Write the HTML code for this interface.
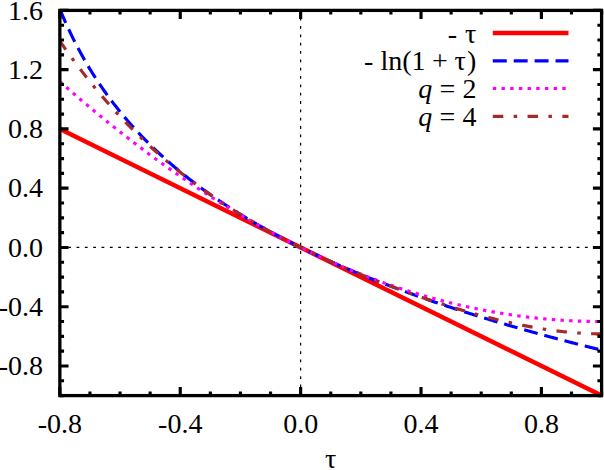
<!DOCTYPE html>
<html><head><meta charset="utf-8"><title>plot</title>
<style>html,body{margin:0;padding:0;background:#fff;}svg{display:block;}text{font-family:"Liberation Serif",serif;font-size:28px;fill:#000;}</style></head>
<body>
<svg width="604" height="470" viewBox="0 0 604 470">
<rect width="604" height="470" fill="#fff"/>
<path d="M59.85,247.45 H601.60" stroke="#000" stroke-width="1.2" stroke-dasharray="2.8 5.535" fill="none"/>
<path d="M300.63,395.60 V10.40" stroke="#000" stroke-width="1.2" stroke-dasharray="2.8 5.535" fill="none"/>
<clipPath id="c"><rect x="59.85" y="10.40" width="546.75" height="388.20"/></clipPath>
<g clip-path="url(#c)" fill="none">
<path d="M59.85,128.92 L330.73,262.26 L601.60,395.60" stroke="#ff0000" stroke-width="4.45"/>
<path d="M59.85,9.00 L61.20,12.30 L62.56,15.52 L63.91,18.68 L65.27,21.77 L66.62,24.80 L67.98,27.76 L69.33,30.67 L70.69,33.52 L72.04,36.32 L73.39,39.07 L74.75,41.76 L76.10,44.41 L77.46,47.01 L78.81,49.57 L80.17,52.09 L81.52,54.56 L82.87,56.99 L84.23,59.38 L85.58,61.73 L86.94,64.05 L88.29,66.33 L89.65,68.58 L91.00,70.79 L92.35,72.97 L93.71,75.12 L95.06,77.24 L96.42,79.33 L97.77,81.39 L99.13,83.42 L100.48,85.42 L101.84,87.40 L103.19,89.35 L104.54,91.27 L105.90,93.18 L107.25,95.05 L108.61,96.91 L109.96,98.74 L111.32,100.54 L112.67,102.33 L114.02,104.09 L115.38,105.84 L116.73,107.56 L118.09,109.27 L119.44,110.95 L120.80,112.62 L122.15,114.26 L123.51,115.89 L124.86,117.50 L126.21,119.10 L127.57,120.68 L128.92,122.24 L130.28,123.78 L131.63,125.31 L132.99,126.82 L134.34,128.32 L135.69,129.80 L137.05,131.27 L138.40,132.72 L139.76,134.16 L141.11,135.59 L142.47,137.00 L143.82,138.40 L145.18,139.78 L146.53,141.15 L147.88,142.51 L149.24,143.86 L150.59,145.20 L151.95,146.52 L153.30,147.83 L154.66,149.13 L156.01,150.42 L157.37,151.70 L158.72,152.97 L160.07,154.22 L161.43,155.47 L162.78,156.70 L164.14,157.93 L165.49,159.14 L166.85,160.35 L168.20,161.54 L169.55,162.73 L170.91,163.91 L172.26,165.07 L173.62,166.23 L174.97,167.38 L176.33,168.52 L177.68,169.65 L179.03,170.77 L180.39,171.89 L181.74,172.99 L183.10,174.09 L184.45,175.18 L185.81,176.26 L187.16,177.34 L188.52,178.40 L189.87,179.46 L191.22,180.51 L192.58,181.56 L193.93,182.59 L195.29,183.62 L196.64,184.65 L198.00,185.66 L199.35,186.67 L200.71,187.67 L202.06,188.67 L203.41,189.65 L204.77,190.64 L206.12,191.61 L207.48,192.58 L208.83,193.54 L210.19,194.50 L211.54,195.45 L212.89,196.39 L214.25,197.33 L215.60,198.26 L216.96,199.19 L218.31,200.11 L219.67,201.02 L221.02,201.93 L222.38,202.84 L223.73,203.73 L225.08,204.63 L226.44,205.51 L227.79,206.40 L229.15,207.27 L230.50,208.15 L231.86,209.01 L233.21,209.87 L234.56,210.73 L235.92,211.58 L237.27,212.43 L238.63,213.27 L239.98,214.11 L241.34,214.94 L242.69,215.77 L244.04,216.59 L245.40,217.41 L246.75,218.23 L248.11,219.04 L249.46,219.84 L250.82,220.64 L252.17,221.44 L253.53,222.23 L254.88,223.02 L256.23,223.80 L257.59,224.58 L258.94,225.36 L260.30,226.13 L261.65,226.90 L263.01,227.66 L264.36,228.42 L265.72,229.18 L267.07,229.93 L268.42,230.68 L269.78,231.42 L271.13,232.17 L272.49,232.90 L273.84,233.64 L275.20,234.37 L276.55,235.09 L277.90,235.82 L279.26,236.54 L280.61,237.25 L281.97,237.96 L283.32,238.67 L284.68,239.38 L286.03,240.08 L287.39,240.78 L288.74,241.48 L290.09,242.17 L291.45,242.86 L292.80,243.54 L294.16,244.23 L295.51,244.91 L296.87,245.58 L298.22,246.26 L299.57,246.93 L300.93,247.59 L302.28,248.26 L303.64,248.92 L304.99,249.58 L306.35,250.23 L307.70,250.89 L309.06,251.54 L310.41,252.18 L311.76,252.83 L313.12,253.47 L314.47,254.11 L315.83,254.75 L317.18,255.38 L318.54,256.01 L319.89,256.64 L321.24,257.26 L322.60,257.88 L323.95,258.50 L325.31,259.12 L326.66,259.74 L328.02,260.35 L329.37,260.96 L330.73,261.57 L332.08,262.17 L333.43,262.77 L334.79,263.37 L336.14,263.97 L337.50,264.57 L338.85,265.16 L340.21,265.75 L341.56,266.34 L342.91,266.92 L344.27,267.51 L345.62,268.09 L346.98,268.67 L348.33,269.24 L349.69,269.82 L351.04,270.39 L352.39,270.96 L353.75,271.53 L355.10,272.09 L356.46,272.66 L357.81,273.22 L359.17,273.78 L360.52,274.33 L361.88,274.89 L363.23,275.44 L364.58,275.99 L365.94,276.54 L367.29,277.09 L368.65,277.63 L370.00,278.18 L371.36,278.72 L372.71,279.26 L374.06,279.79 L375.42,280.33 L376.77,280.86 L378.13,281.39 L379.48,281.92 L380.84,282.45 L382.19,282.97 L383.55,283.50 L384.90,284.02 L386.25,284.54 L387.61,285.06 L388.96,285.57 L390.32,286.09 L391.67,286.60 L393.03,287.11 L394.38,287.62 L395.74,288.13 L397.09,288.63 L398.44,289.14 L399.80,289.64 L401.15,290.14 L402.51,290.64 L403.86,291.14 L405.22,291.63 L406.57,292.13 L407.92,292.62 L409.28,293.11 L410.63,293.60 L411.99,294.09 L413.34,294.57 L414.70,295.06 L416.05,295.54 L417.40,296.02 L418.76,296.50 L420.11,296.98 L421.47,297.45 L422.82,297.93 L424.18,298.40 L425.53,298.87 L426.89,299.35 L428.24,299.81 L429.59,300.28 L430.95,300.75 L432.30,301.21 L433.66,301.68 L435.01,302.14 L436.37,302.60 L437.72,303.06 L439.07,303.51 L440.43,303.97 L441.78,304.42 L443.14,304.88 L444.49,305.33 L445.85,305.78 L447.20,306.23 L448.56,306.68 L449.91,307.12 L451.26,307.57 L452.62,308.01 L453.97,308.45 L455.33,308.89 L456.68,309.33 L458.04,309.77 L459.39,310.21 L460.75,310.64 L462.10,311.08 L463.45,311.51 L464.81,311.94 L466.16,312.38 L467.52,312.80 L468.87,313.23 L470.23,313.66 L471.58,314.09 L472.93,314.51 L474.29,314.93 L475.64,315.36 L477.00,315.78 L478.35,316.20 L479.71,316.62 L481.06,317.03 L482.42,317.45 L483.77,317.86 L485.12,318.28 L486.48,318.69 L487.83,319.10 L489.19,319.51 L490.54,319.92 L491.90,320.33 L493.25,320.74 L494.60,321.14 L495.96,321.55 L497.31,321.95 L498.67,322.35 L500.02,322.76 L501.38,323.16 L502.73,323.56 L504.08,323.95 L505.44,324.35 L506.79,324.75 L508.15,325.14 L509.50,325.54 L510.86,325.93 L512.21,326.32 L513.57,326.71 L514.92,327.10 L516.27,327.49 L517.63,327.88 L518.98,328.27 L520.34,328.65 L521.69,329.04 L523.05,329.42 L524.40,329.80 L525.75,330.19 L527.11,330.57 L528.46,330.95 L529.82,331.33 L531.17,331.70 L532.53,332.08 L533.88,332.46 L535.24,332.83 L536.59,333.21 L537.94,333.58 L539.30,333.95 L540.65,334.32 L542.01,334.69 L543.36,335.06 L544.72,335.43 L546.07,335.80 L547.42,336.17 L548.78,336.53 L550.13,336.90 L551.49,337.26 L552.84,337.62 L554.20,337.99 L555.55,338.35 L556.91,338.71 L558.26,339.07 L559.61,339.43 L560.97,339.78 L562.32,340.14 L563.68,340.50 L565.03,340.85 L566.39,341.21 L567.74,341.56 L569.10,341.91 L570.45,342.27 L571.80,342.62 L573.16,342.97 L574.51,343.32 L575.87,343.67 L577.22,344.01 L578.58,344.36 L579.93,344.71 L581.28,345.05 L582.64,345.40 L583.99,345.74 L585.35,346.08 L586.70,346.43 L588.06,346.77 L589.41,347.11 L590.76,347.45 L592.12,347.79 L593.47,348.12 L594.83,348.46 L596.18,348.80 L597.54,349.14 L598.89,349.47 L600.25,349.80 L601.60,350.14" stroke="#0000ff" stroke-width="3.15" stroke-dasharray="13.92 6.957" stroke-dashoffset="-1.2"/>
<path d="M59.85,81.51 L61.20,82.71 L62.56,83.91 L63.91,85.10 L65.27,86.29 L66.62,87.48 L67.98,88.66 L69.33,89.84 L70.69,91.02 L72.04,92.19 L73.39,93.36 L74.75,94.53 L76.10,95.70 L77.46,96.86 L78.81,98.02 L80.17,99.18 L81.52,100.33 L82.87,101.48 L84.23,102.63 L85.58,103.77 L86.94,104.91 L88.29,106.05 L89.65,107.19 L91.00,108.32 L92.35,109.45 L93.71,110.58 L95.06,111.70 L96.42,112.82 L97.77,113.94 L99.13,115.05 L100.48,116.17 L101.84,117.27 L103.19,118.38 L104.54,119.48 L105.90,120.58 L107.25,121.68 L108.61,122.77 L109.96,123.86 L111.32,124.95 L112.67,126.03 L114.02,127.12 L115.38,128.19 L116.73,129.27 L118.09,130.34 L119.44,131.41 L120.80,132.48 L122.15,133.54 L123.51,134.60 L124.86,135.66 L126.21,136.71 L127.57,137.77 L128.92,138.81 L130.28,139.86 L131.63,140.90 L132.99,141.94 L134.34,142.98 L135.69,144.01 L137.05,145.04 L138.40,146.07 L139.76,147.09 L141.11,148.12 L142.47,149.13 L143.82,150.15 L145.18,151.16 L146.53,152.17 L147.88,153.18 L149.24,154.18 L150.59,155.18 L151.95,156.18 L153.30,157.18 L154.66,158.17 L156.01,159.16 L157.37,160.14 L158.72,161.12 L160.07,162.10 L161.43,163.08 L162.78,164.05 L164.14,165.02 L165.49,165.99 L166.85,166.96 L168.20,167.92 L169.55,168.88 L170.91,169.83 L172.26,170.78 L173.62,171.73 L174.97,172.68 L176.33,173.62 L177.68,174.56 L179.03,175.50 L180.39,176.44 L181.74,177.37 L183.10,178.30 L184.45,179.22 L185.81,180.14 L187.16,181.06 L188.52,181.98 L189.87,182.89 L191.22,183.80 L192.58,184.71 L193.93,185.62 L195.29,186.52 L196.64,187.42 L198.00,188.31 L199.35,189.20 L200.71,190.09 L202.06,190.98 L203.41,191.86 L204.77,192.74 L206.12,193.62 L207.48,194.50 L208.83,195.37 L210.19,196.24 L211.54,197.10 L212.89,197.96 L214.25,198.82 L215.60,199.68 L216.96,200.53 L218.31,201.38 L219.67,202.23 L221.02,203.08 L222.38,203.92 L223.73,204.76 L225.08,205.59 L226.44,206.43 L227.79,207.25 L229.15,208.08 L230.50,208.90 L231.86,209.73 L233.21,210.54 L234.56,211.36 L235.92,212.17 L237.27,212.98 L238.63,213.78 L239.98,214.59 L241.34,215.38 L242.69,216.18 L244.04,216.98 L245.40,217.77 L246.75,218.55 L248.11,219.34 L249.46,220.12 L250.82,220.90 L252.17,221.67 L253.53,222.45 L254.88,223.22 L256.23,223.98 L257.59,224.75 L258.94,225.51 L260.30,226.26 L261.65,227.02 L263.01,227.77 L264.36,228.52 L265.72,229.26 L267.07,230.01 L268.42,230.75 L269.78,231.48 L271.13,232.22 L272.49,232.95 L273.84,233.67 L275.20,234.40 L276.55,235.12 L277.90,235.84 L279.26,236.55 L280.61,237.27 L281.97,237.98 L283.32,238.68 L284.68,239.39 L286.03,240.09 L287.39,240.78 L288.74,241.48 L290.09,242.17 L291.45,242.86 L292.80,243.54 L294.16,244.23 L295.51,244.91 L296.87,245.58 L298.22,246.26 L299.57,246.93 L300.93,247.59 L302.28,248.26 L303.64,248.92 L304.99,249.58 L306.35,250.23 L307.70,250.89 L309.06,251.54 L310.41,252.18 L311.76,252.83 L313.12,253.47 L314.47,254.10 L315.83,254.74 L317.18,255.37 L318.54,256.00 L319.89,256.62 L321.24,257.25 L322.60,257.87 L323.95,258.48 L325.31,259.10 L326.66,259.71 L328.02,260.31 L329.37,260.92 L330.73,261.52 L332.08,262.12 L333.43,262.71 L334.79,263.31 L336.14,263.90 L337.50,264.48 L338.85,265.07 L340.21,265.65 L341.56,266.22 L342.91,266.80 L344.27,267.37 L345.62,267.94 L346.98,268.51 L348.33,269.07 L349.69,269.63 L351.04,270.18 L352.39,270.74 L353.75,271.29 L355.10,271.84 L356.46,272.38 L357.81,272.92 L359.17,273.46 L360.52,274.00 L361.88,274.53 L363.23,275.06 L364.58,275.58 L365.94,276.11 L367.29,276.63 L368.65,277.15 L370.00,277.66 L371.36,278.17 L372.71,278.68 L374.06,279.19 L375.42,279.69 L376.77,280.19 L378.13,280.68 L379.48,281.18 L380.84,281.67 L382.19,282.16 L383.55,282.64 L384.90,283.12 L386.25,283.60 L387.61,284.08 L388.96,284.55 L390.32,285.02 L391.67,285.48 L393.03,285.95 L394.38,286.41 L395.74,286.87 L397.09,287.32 L398.44,287.77 L399.80,288.22 L401.15,288.67 L402.51,289.11 L403.86,289.55 L405.22,289.98 L406.57,290.42 L407.92,290.85 L409.28,291.28 L410.63,291.70 L411.99,292.12 L413.34,292.54 L414.70,292.96 L416.05,293.37 L417.40,293.78 L418.76,294.18 L420.11,294.59 L421.47,294.99 L422.82,295.39 L424.18,295.78 L425.53,296.17 L426.89,296.56 L428.24,296.95 L429.59,297.33 L430.95,297.71 L432.30,298.08 L433.66,298.46 L435.01,298.83 L436.37,299.20 L437.72,299.56 L439.07,299.92 L440.43,300.28 L441.78,300.64 L443.14,300.99 L444.49,301.34 L445.85,301.68 L447.20,302.03 L448.56,302.37 L449.91,302.71 L451.26,303.04 L452.62,303.37 L453.97,303.70 L455.33,304.03 L456.68,304.35 L458.04,304.67 L459.39,304.98 L460.75,305.30 L462.10,305.61 L463.45,305.92 L464.81,306.22 L466.16,306.52 L467.52,306.82 L468.87,307.12 L470.23,307.41 L471.58,307.70 L472.93,307.99 L474.29,308.27 L475.64,308.55 L477.00,308.83 L478.35,309.10 L479.71,309.37 L481.06,309.64 L482.42,309.91 L483.77,310.17 L485.12,310.43 L486.48,310.69 L487.83,310.94 L489.19,311.19 L490.54,311.44 L491.90,311.68 L493.25,311.92 L494.60,312.16 L495.96,312.40 L497.31,312.63 L498.67,312.86 L500.02,313.09 L501.38,313.31 L502.73,313.53 L504.08,313.75 L505.44,313.96 L506.79,314.17 L508.15,314.38 L509.50,314.59 L510.86,314.79 L512.21,314.99 L513.57,315.19 L514.92,315.38 L516.27,315.57 L517.63,315.76 L518.98,315.94 L520.34,316.12 L521.69,316.30 L523.05,316.48 L524.40,316.65 L525.75,316.82 L527.11,316.99 L528.46,317.15 L529.82,317.31 L531.17,317.47 L532.53,317.62 L533.88,317.77 L535.24,317.92 L536.59,318.07 L537.94,318.21 L539.30,318.35 L540.65,318.49 L542.01,318.62 L543.36,318.75 L544.72,318.88 L546.07,319.00 L547.42,319.12 L548.78,319.24 L550.13,319.36 L551.49,319.47 L552.84,319.58 L554.20,319.69 L555.55,319.79 L556.91,319.89 L558.26,319.99 L559.61,320.08 L560.97,320.17 L562.32,320.26 L563.68,320.35 L565.03,320.43 L566.39,320.51 L567.74,320.59 L569.10,320.66 L570.45,320.73 L571.80,320.80 L573.16,320.86 L574.51,320.92 L575.87,320.98 L577.22,321.04 L578.58,321.09 L579.93,321.14 L581.28,321.19 L582.64,321.23 L583.99,321.27 L585.35,321.31 L586.70,321.34 L588.06,321.37 L589.41,321.40 L590.76,321.43 L592.12,321.45 L593.47,321.47 L594.83,321.49 L596.18,321.50 L597.54,321.51 L598.89,321.52 L600.25,321.52 L601.60,321.52" stroke="#ff00ff" stroke-width="3.15" stroke-dasharray="3.4 5.29"/>
<path d="M59.85,41.06 L61.20,43.02 L62.56,44.97 L63.91,46.90 L65.27,48.82 L66.62,50.73 L67.98,52.63 L69.33,54.51 L70.69,56.38 L72.04,58.23 L73.39,60.08 L74.75,61.91 L76.10,63.72 L77.46,65.53 L78.81,67.32 L80.17,69.10 L81.52,70.87 L82.87,72.63 L84.23,74.37 L85.58,76.11 L86.94,77.83 L88.29,79.54 L89.65,81.23 L91.00,82.92 L92.35,84.59 L93.71,86.26 L95.06,87.91 L96.42,89.55 L97.77,91.17 L99.13,92.79 L100.48,94.40 L101.84,95.99 L103.19,97.58 L104.54,99.15 L105.90,100.72 L107.25,102.27 L108.61,103.81 L109.96,105.34 L111.32,106.86 L112.67,108.37 L114.02,109.87 L115.38,111.36 L116.73,112.84 L118.09,114.31 L119.44,115.77 L120.80,117.22 L122.15,118.66 L123.51,120.09 L124.86,121.52 L126.21,122.93 L127.57,124.33 L128.92,125.72 L130.28,127.10 L131.63,128.48 L132.99,129.84 L134.34,131.20 L135.69,132.54 L137.05,133.88 L138.40,135.21 L139.76,136.53 L141.11,137.84 L142.47,139.14 L143.82,140.44 L145.18,141.72 L146.53,143.00 L147.88,144.27 L149.24,145.53 L150.59,146.78 L151.95,148.02 L153.30,149.26 L154.66,150.48 L156.01,151.70 L157.37,152.91 L158.72,154.12 L160.07,155.31 L161.43,156.50 L162.78,157.68 L164.14,158.85 L165.49,160.02 L166.85,161.17 L168.20,162.32 L169.55,163.46 L170.91,164.60 L172.26,165.73 L173.62,166.85 L174.97,167.96 L176.33,169.07 L177.68,170.17 L179.03,171.26 L180.39,172.34 L181.74,173.42 L183.10,174.49 L184.45,175.56 L185.81,176.62 L187.16,177.67 L188.52,178.71 L189.87,179.75 L191.22,180.79 L192.58,181.81 L193.93,182.83 L195.29,183.84 L196.64,184.85 L198.00,185.85 L199.35,186.85 L200.71,187.84 L202.06,188.82 L203.41,189.80 L204.77,190.77 L206.12,191.73 L207.48,192.69 L208.83,193.65 L210.19,194.59 L211.54,195.54 L212.89,196.47 L214.25,197.41 L215.60,198.33 L216.96,199.25 L218.31,200.17 L219.67,201.08 L221.02,201.98 L222.38,202.88 L223.73,203.78 L225.08,204.66 L226.44,205.55 L227.79,206.43 L229.15,207.30 L230.50,208.17 L231.86,209.04 L233.21,209.89 L234.56,210.75 L235.92,211.60 L237.27,212.44 L238.63,213.28 L239.98,214.12 L241.34,214.95 L242.69,215.78 L244.04,216.60 L245.40,217.42 L246.75,218.23 L248.11,219.04 L249.46,219.85 L250.82,220.65 L252.17,221.44 L253.53,222.23 L254.88,223.02 L256.23,223.81 L257.59,224.59 L258.94,225.36 L260.30,226.13 L261.65,226.90 L263.01,227.66 L264.36,228.42 L265.72,229.18 L267.07,229.93 L268.42,230.68 L269.78,231.42 L271.13,232.17 L272.49,232.90 L273.84,233.64 L275.20,234.37 L276.55,235.09 L277.90,235.82 L279.26,236.54 L280.61,237.25 L281.97,237.96 L283.32,238.67 L284.68,239.38 L286.03,240.08 L287.39,240.78 L288.74,241.48 L290.09,242.17 L291.45,242.86 L292.80,243.54 L294.16,244.23 L295.51,244.91 L296.87,245.58 L298.22,246.26 L299.57,246.93 L300.93,247.59 L302.28,248.26 L303.64,248.92 L304.99,249.58 L306.35,250.23 L307.70,250.89 L309.06,251.54 L310.41,252.18 L311.76,252.83 L313.12,253.47 L314.47,254.11 L315.83,254.75 L317.18,255.38 L318.54,256.01 L319.89,256.64 L321.24,257.26 L322.60,257.88 L323.95,258.50 L325.31,259.12 L326.66,259.74 L328.02,260.35 L329.37,260.96 L330.73,261.57 L332.08,262.17 L333.43,262.77 L334.79,263.37 L336.14,263.97 L337.50,264.57 L338.85,265.16 L340.21,265.75 L341.56,266.34 L342.91,266.92 L344.27,267.51 L345.62,268.09 L346.98,268.66 L348.33,269.24 L349.69,269.81 L351.04,270.39 L352.39,270.96 L353.75,271.52 L355.10,272.09 L356.46,272.65 L357.81,273.21 L359.17,273.77 L360.52,274.33 L361.88,274.88 L363.23,275.43 L364.58,275.98 L365.94,276.53 L367.29,277.08 L368.65,277.62 L370.00,278.16 L371.36,278.70 L372.71,279.24 L374.06,279.77 L375.42,280.30 L376.77,280.84 L378.13,281.36 L379.48,281.89 L380.84,282.42 L382.19,282.94 L383.55,283.46 L384.90,283.98 L386.25,284.49 L387.61,285.01 L388.96,285.52 L390.32,286.03 L391.67,286.54 L393.03,287.05 L394.38,287.55 L395.74,288.05 L397.09,288.56 L398.44,289.05 L399.80,289.55 L401.15,290.04 L402.51,290.54 L403.86,291.03 L405.22,291.52 L406.57,292.00 L407.92,292.49 L409.28,292.97 L410.63,293.45 L411.99,293.93 L413.34,294.41 L414.70,294.88 L416.05,295.35 L417.40,295.82 L418.76,296.29 L420.11,296.76 L421.47,297.22 L422.82,297.68 L424.18,298.14 L425.53,298.60 L426.89,299.06 L428.24,299.51 L429.59,299.97 L430.95,300.42 L432.30,300.86 L433.66,301.31 L435.01,301.75 L436.37,302.19 L437.72,302.63 L439.07,303.07 L440.43,303.51 L441.78,303.94 L443.14,304.37 L444.49,304.80 L445.85,305.22 L447.20,305.65 L448.56,306.07 L449.91,306.49 L451.26,306.91 L452.62,307.32 L453.97,307.74 L455.33,308.15 L456.68,308.56 L458.04,308.96 L459.39,309.37 L460.75,309.77 L462.10,310.17 L463.45,310.56 L464.81,310.96 L466.16,311.35 L467.52,311.74 L468.87,312.13 L470.23,312.51 L471.58,312.89 L472.93,313.27 L474.29,313.65 L475.64,314.02 L477.00,314.40 L478.35,314.77 L479.71,315.13 L481.06,315.50 L482.42,315.86 L483.77,316.22 L485.12,316.57 L486.48,316.93 L487.83,317.28 L489.19,317.63 L490.54,317.97 L491.90,318.31 L493.25,318.65 L494.60,318.99 L495.96,319.33 L497.31,319.66 L498.67,319.98 L500.02,320.31 L501.38,320.63 L502.73,320.95 L504.08,321.27 L505.44,321.58 L506.79,321.89 L508.15,322.20 L509.50,322.50 L510.86,322.80 L512.21,323.10 L513.57,323.39 L514.92,323.69 L516.27,323.97 L517.63,324.26 L518.98,324.54 L520.34,324.82 L521.69,325.09 L523.05,325.36 L524.40,325.63 L525.75,325.89 L527.11,326.15 L528.46,326.41 L529.82,326.66 L531.17,326.91 L532.53,327.16 L533.88,327.40 L535.24,327.64 L536.59,327.87 L537.94,328.10 L539.30,328.33 L540.65,328.55 L542.01,328.77 L543.36,328.99 L544.72,329.20 L546.07,329.40 L547.42,329.61 L548.78,329.80 L550.13,330.00 L551.49,330.19 L552.84,330.38 L554.20,330.56 L555.55,330.73 L556.91,330.91 L558.26,331.08 L559.61,331.24 L560.97,331.40 L562.32,331.55 L563.68,331.71 L565.03,331.85 L566.39,331.99 L567.74,332.13 L569.10,332.26 L570.45,332.39 L571.80,332.51 L573.16,332.63 L574.51,332.74 L575.87,332.85 L577.22,332.95 L578.58,333.05 L579.93,333.14 L581.28,333.22 L582.64,333.31 L583.99,333.38 L585.35,333.45 L586.70,333.52 L588.06,333.58 L589.41,333.63 L590.76,333.68 L592.12,333.73 L593.47,333.76 L594.83,333.80 L596.18,333.82 L597.54,333.84 L598.89,333.86 L600.25,333.87 L601.60,333.87" stroke="#a52a2a" stroke-width="3.15" stroke-dasharray="10.5 10.37 3.5 10.4"/>
</g>
<rect x="59.85" y="10.40" width="541.75" height="385.20" fill="none" stroke="#000" stroke-width="3.3"/>
<path d="M59.85,395.60 v-8.70 M59.85,10.40 v8.70 M89.95,395.60 v-4.20 M89.95,10.40 v4.20 M120.04,395.60 v-4.20 M120.04,10.40 v4.20 M150.14,395.60 v-4.20 M150.14,10.40 v4.20 M180.24,395.60 v-8.70 M180.24,10.40 v8.70 M210.34,395.60 v-4.20 M210.34,10.40 v4.20 M240.43,395.60 v-4.20 M240.43,10.40 v4.20 M270.53,395.60 v-4.20 M270.53,10.40 v4.20 M300.63,395.60 v-8.70 M300.63,10.40 v8.70 M330.73,395.60 v-4.20 M330.73,10.40 v4.20 M360.82,395.60 v-4.20 M360.82,10.40 v4.20 M390.92,395.60 v-4.20 M390.92,10.40 v4.20 M421.02,395.60 v-8.70 M421.02,10.40 v8.70 M451.11,395.60 v-4.20 M451.11,10.40 v4.20 M481.21,395.60 v-4.20 M481.21,10.40 v4.20 M511.31,395.60 v-4.20 M511.31,10.40 v4.20 M541.41,395.60 v-8.70 M541.41,10.40 v8.70 M571.50,395.60 v-4.20 M571.50,10.40 v4.20 M601.60,395.60 v-4.20 M601.60,10.40 v4.20 M59.85,395.60 h4.20 M601.60,395.60 h-4.20 M59.85,380.78 h4.20 M601.60,380.78 h-4.20 M59.85,365.97 h8.70 M601.60,365.97 h-8.70 M59.85,351.15 h4.20 M601.60,351.15 h-4.20 M59.85,336.34 h4.20 M601.60,336.34 h-4.20 M59.85,321.52 h4.20 M601.60,321.52 h-4.20 M59.85,306.71 h8.70 M601.60,306.71 h-8.70 M59.85,291.89 h4.20 M601.60,291.89 h-4.20 M59.85,277.08 h4.20 M601.60,277.08 h-4.20 M59.85,262.26 h4.20 M601.60,262.26 h-4.20 M59.85,247.45 h8.70 M601.60,247.45 h-8.70 M59.85,232.63 h4.20 M601.60,232.63 h-4.20 M59.85,217.82 h4.20 M601.60,217.82 h-4.20 M59.85,203.00 h4.20 M601.60,203.00 h-4.20 M59.85,188.18 h8.70 M601.60,188.18 h-8.70 M59.85,173.37 h4.20 M601.60,173.37 h-4.20 M59.85,158.55 h4.20 M601.60,158.55 h-4.20 M59.85,143.74 h4.20 M601.60,143.74 h-4.20 M59.85,128.92 h8.70 M601.60,128.92 h-8.70 M59.85,114.11 h4.20 M601.60,114.11 h-4.20 M59.85,99.29 h4.20 M601.60,99.29 h-4.20 M59.85,84.48 h4.20 M601.60,84.48 h-4.20 M59.85,69.66 h8.70 M601.60,69.66 h-8.70 M59.85,54.85 h4.20 M601.60,54.85 h-4.20 M59.85,40.03 h4.20 M601.60,40.03 h-4.20 M59.85,25.22 h4.20 M601.60,25.22 h-4.20 M59.85,10.40 h8.70 M601.60,10.40 h-8.70" stroke="#000" stroke-width="3.15" fill="none"/>
<path d="M492.80,32.90 H568.50" stroke="#ff0000" stroke-width="4.45" fill="none"/>
<path d="M492.80,60.90 H568.50" stroke="#0000ff" stroke-width="3.15" stroke-dasharray="13.95 6.966" fill="none"/>
<path d="M492.80,88.50 H568.50" stroke="#ff00ff" stroke-width="3.15" stroke-dasharray="3.4 5.29" fill="none"/>
<path d="M492.80,116.30 H568.50" stroke="#a52a2a" stroke-width="3.15" stroke-dasharray="10.5 10.37 3.5 10.4" fill="none"/>
<text x="447.7" y="42.6">-</text>
<text x="465" y="43">τ</text>
<text x="364" y="69.9">-</text>
<text x="380.44" y="69.9">ln(1</text>
<text x="432.1" y="69.9">+</text>
<text x="454.5" y="69.9">τ</text>
<text x="466.88" y="69.9">)</text>
<text x="418.3" y="98.15" font-style="italic">q</text>
<text x="439.6" y="98.15">=</text>
<text x="462.5" y="98.15">2</text>
<text x="418.3" y="125.8" font-style="italic">q</text>
<text x="439.6" y="125.8">=</text>
<text x="462.5" y="125.8">4</text>
<text x="-1.22" y="375.27">-0.8</text>
<text x="-1.22" y="316.01">-0.4</text>
<text x="8.1" y="256.75">0.0</text>
<text x="8.1" y="197.48">0.4</text>
<text x="8.1" y="138.22">0.8</text>
<text x="8.1" y="78.96">1.2</text>
<text x="8.1" y="19.7">1.6</text>
<text x="37.69" y="432.9">-0.8</text>
<text x="158.08" y="432.9">-0.4</text>
<text x="283.13" y="432.9">0.0</text>
<text x="403.52" y="432.9">0.4</text>
<text x="523.91" y="432.9">0.8</text>
<text x="330.7" y="468" text-anchor="middle" font-size="30">τ</text>
</svg></body></html>
